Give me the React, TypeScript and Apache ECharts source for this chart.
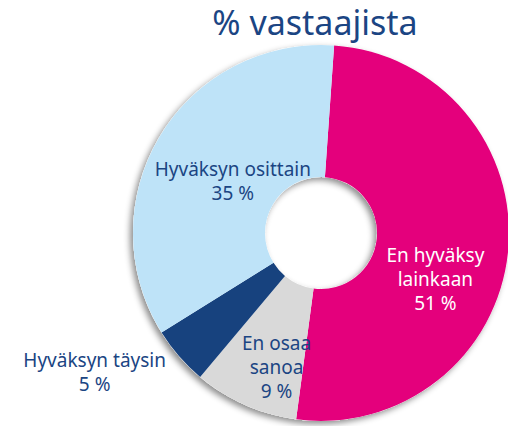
import React, { useEffect, useRef } from "react";
import * as echarts from "echarts";

const categories = ["En hyväksy\nlainkaan", "En osaa\nsanoa", "Hyväksyn täysin", "Hyväksyn osittain"];
const values = [51, 9, 5, 35];
const colors = ["#E4007C", "#D9D9D9", "#17427E", "#BEE3F8"];
const labelColors = ["#FFFFFF", "#1B4583", "#1B4583", "#1B4583"];
const labelShift = [
  [-10, 33],
  [6, 20],
  [-132, 57],
  [19, 12],
];
const title = "% vastaajista";

export default function App() {
  const ref = useRef<HTMLDivElement>(null);
  useEffect(() => {
    document.body.style.margin = "0";
    const chart = echarts.init(ref.current!, null, { renderer: "svg" });
    const center = [321, 233];
    const radius = [56, 188];
    chart.setOption({
      animation: false,
      title: {
        text: title,
        left: 315,
        top: 5,
        padding: 0,
        textAlign: "center",
        textStyle: { color: "#1B4583", fontSize: 34, fontWeight: "normal", fontFamily: "Noto Sans", lineHeight: 34 },
      },
      series: [
        {
          type: "pie",
          silent: true,
          center,
          radius,
          z: 1,
          label: { show: false },
          labelLine: { show: false },
          itemStyle: {
            color: "#ffffff",
            shadowBlur: 6,
            shadowOffsetX: -3,
            shadowOffsetY: 3,
            shadowColor: "rgba(0,0,0,0.45)",
          },
          data: [{ value: 1, name: "bg" }],
        },
        {
          type: "pie",
          center,
          radius,
          z: 2,
          startAngle: 86,
          clockwise: true,
          avoidLabelOverlap: false,
          label: {
            show: true,
            position: "inside",
            fontFamily: "Noto Sans",
            fontSize: 19,
            lineHeight: 24,
            align: "center",
            formatter: (p: any) => `${categories[p.dataIndex]}\n${p.value} %`,
          },
          labelLine: { show: false },
          labelLayout: (p: any) => ({ dx: labelShift[p.dataIndex][0], dy: labelShift[p.dataIndex][1] }),
          data: values.map((v, i) => ({
            value: v,
            name: categories[i],
            itemStyle: { color: colors[i] },
            label: { color: labelColors[i] },
          })),
        },
      ],
    });
    return () => chart.dispose();
  }, []);
  return <div ref={ref} style={{ width: 508, height: 426 }} />;
}
